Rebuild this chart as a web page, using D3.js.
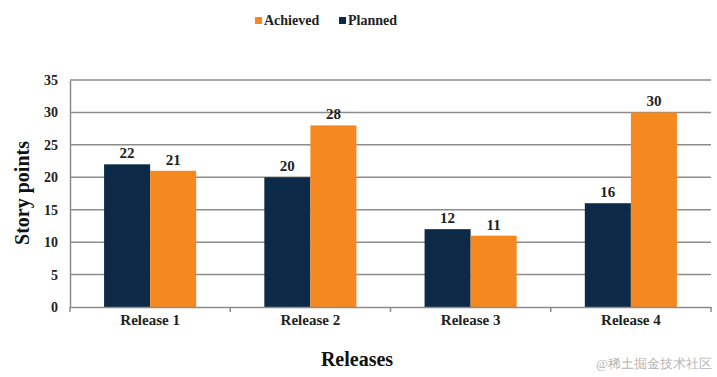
<!DOCTYPE html>
<html>
<head>
<meta charset="utf-8">
<script src="https://cdn.jsdelivr.net/npm/d3@7"></script>
<style>
body{margin:0;background:#fff;}
text{font-family:"Liberation Serif","DejaVu Serif",serif;}
</style>
</head>
<body>
<div class="barChart"></div>
<script>
const releases = ["Release 1","Release 2","Release 3","Release 4"];
const planned = [22,20,12,16];
const achieved = [21,28,11,30];
const yTicks = [0,5,10,15,20,25,30,35];
const seriesNames = ["Planned","Achieved"];
const legendOrder = ["Achieved","Planned"];

const colors = {Planned:"#0c2947", Achieved:"#f5891f"};

let svg = d3.select(".barChart")
            .append("svg")
            .attr("width",717)
            .attr("height",377)

let x_scale = d3.scaleBand()
                .domain(releases)
                .range([70,711])
let inner = d3.scaleBand()
              .domain(seriesNames)
              .range([0,x_scale.bandwidth()])
              .paddingOuter(0.74)
let y_scale = d3.scaleLinear()
                .domain([0,35])
                .range([307,80])

// gridlines
svg.append("g")
   .selectAll("line")
   .data(yTicks.slice(1))
   .join("line")
   .attr("x1",70).attr("x2",711)
   .attr("y1",d=>y_scale(d)).attr("y2",d=>y_scale(d))
   .attr("stroke","#8c8c8c")
   .attr("stroke-width",1.5)

let rows = releases.map((r,i)=>({release:r, Planned:planned[i], Achieved:achieved[i]}))

let groups = svg.append("g")
   .selectAll("g")
   .data(rows)
   .join("g")
   .attr("transform",d=>"translate("+x_scale(d.release)+",0)")

groups.selectAll("rect")
   .data(d=>seriesNames.map(s=>({s:s, v:d[s]})))
   .join("rect")
   .attr("x",d=>inner(d.s))
   .attr("width",inner.bandwidth())
   .attr("y",d=>y_scale(d.v))
   .attr("height",d=>y_scale(0)-y_scale(d.v))
   .attr("fill",d=>colors[d.s])

groups.selectAll("text")
   .data(d=>seriesNames.map(s=>({s:s, v:d[s]})))
   .join("text")
   .attr("x",d=>inner(d.s)+inner.bandwidth()/2)
   .attr("y",d=>y_scale(d.v)-6)
   .attr("text-anchor","middle")
   .attr("font-size",15)
   .attr("font-weight","bold")
   .attr("fill","#222")
   .text(d=>d.v)

// axes
let y_axis = d3.axisLeft(y_scale)
               .tickValues(yTicks)
               .tickSize(0)
               .tickPadding(12)
svg.append("g")
   .attr("transform","translate(70,0)")
   .call(y_axis)
   .call(g=>g.select(".domain").attr("stroke","#8c8c8c").attr("stroke-width",1.5))
   .call(g=>g.selectAll("text").attr("font-size",14).attr("font-weight","bold").attr("fill","#222")
             .attr("font-family","Liberation Serif"))

let x_axis = d3.axisBottom(x_scale)
               .tickSize(0)
               .tickPadding(7)
svg.append("g")
   .attr("transform","translate(0,307)")
   .call(x_axis)
   .call(g=>g.select(".domain").attr("stroke","#8c8c8c").attr("stroke-width",1.5))
   .call(g=>g.selectAll("text").attr("font-size",15).attr("font-weight","bold").attr("fill","#222")
             .attr("font-family","Liberation Serif"))

// separators between categories
svg.append("g")
   .selectAll("line")
   .data(releases.concat(["end"]))
   .join("line")
   .attr("x1",(d,i)=>i<releases.length ? x_scale(d) : x_scale.range()[1])
   .attr("x2",(d,i)=>i<releases.length ? x_scale(d) : x_scale.range()[1])
   .attr("y1",307).attr("y2",312)
   .attr("stroke","#8c8c8c")
   .attr("stroke-width",1.5)

// axis titles
svg.append("text")
   .attr("transform","translate(29,193) rotate(-90)")
   .attr("text-anchor","middle")
   .attr("font-size",20)
   .attr("font-weight","bold")
   .attr("fill","#111")
   .text("Story points")
svg.append("text")
   .attr("x",357).attr("y",366)
   .attr("text-anchor","middle")
   .attr("font-size",20)
   .attr("font-weight","bold")
   .attr("fill","#111")
   .text("Releases")

// legend
let legendX = [255,339]
let legend = svg.append("g")
   .selectAll("g")
   .data(legendOrder)
   .join("g")
   .attr("transform",(d,i)=>"translate("+legendX[i]+",22)")
legend.append("rect")
   .attr("x",0).attr("y",-5)
   .attr("width",7).attr("height",7)
   .attr("fill",d=>colors[d])
legend.append("text")
   .attr("x",9).attr("y",3)
   .attr("font-size",14)
   .attr("font-weight","bold")
   .attr("fill","#222")
   .text(d=>d)

// watermark
svg.append("text")
   .attr("x",712).attr("y",368)
   .attr("text-anchor","end")
   .attr("font-size",13)
   .attr("fill","#b5b5b5")
   .attr("font-family","Noto Sans CJK SC")
   .text("@稀土掘金技术社区")
</script>
</body>
</html>
